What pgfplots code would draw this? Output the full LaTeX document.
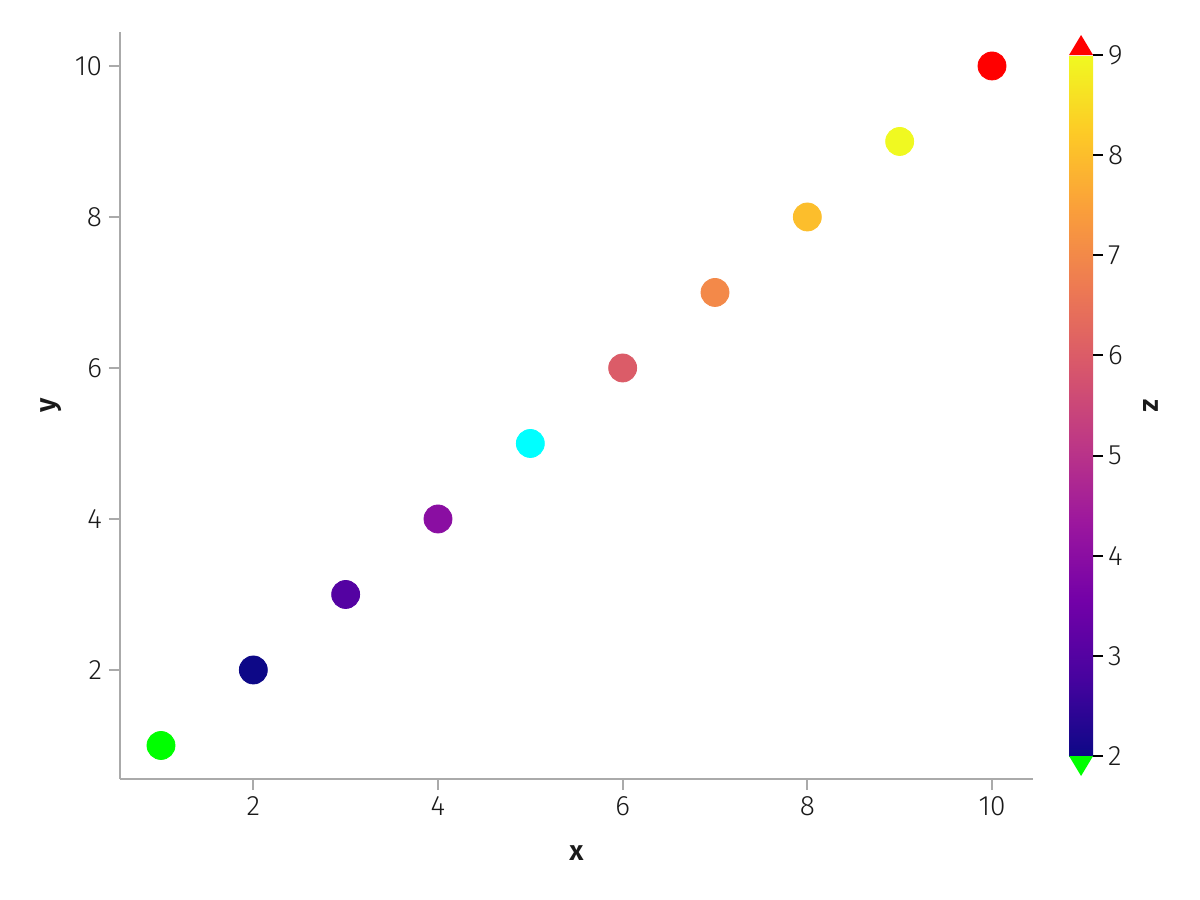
\documentclass[border=0pt]{standalone}
\usepackage{fontspec}
\setmainfont{Fira Sans Light}[BoldFont={Fira Sans SemiBold}]
\usepackage{pgfplots}
\pgfplotsset{compat=1.18}
\definecolor{spine}{HTML}{AAAAAA}
\definecolor{txt}{HTML}{1A1A1A}
\definecolor{nancyan}{rgb}{0,1,1}
\definecolor{lowgreen}{rgb}{0,1,0}
\definecolor{highred}{rgb}{1,0,0}
\begin{document}
\begin{tikzpicture}[font=\fontsize{14}{16}\selectfont]
\path[use as bounding box] (-60pt,-60.5pt) rectangle (540pt,389.5pt);
\begin{axis}[
  at={(0,0)}, anchor=south west,
  scale only axis, width=456.5pt, height=373.5pt,
  xmin=0.556, xmax=10.444, ymin=0.556, ymax=10.45,
  axis x line*=bottom, axis y line*=left,
  axis line style={spine, line width=1pt, -},
  xtick={2,4,6,8,10}, ytick={2,4,6,8,10},
  tick align=outside, major tick length=5.5pt,
  tick style={spine, line width=1pt},
  ticklabel style={txt},
  /pgf/number format/assume math mode=true,
  xlabel={\textbf{x}}, ylabel={\textbf{y}},
  xlabel style={txt, yshift=-8pt}, ylabel style={txt, yshift=0pt},
  colormap={plasma}{rgb255=(13,8,135) rgb255=(71,3,159) rgb255=(115,1,168) rgb255=(156,23,158) rgb255=(189,55,134) rgb255=(216,87,107) rgb255=(237,121,83) rgb255=(250,158,59) rgb255=(253,202,38) rgb255=(240,249,33)},
  point meta min=2, point meta max=9,
  clip=false,
  colorbar,
  colorbar style={
    at={(parent axis.south east)}, anchor=south west,
    xshift=9.5pt, yshift=11.5pt,
    width=12pt, height=350.5pt,
    axis line style={draw=none},
    ytick={2,3,4,5,6,7,8,9},
    yticklabel pos=right, ytick pos=right,
    tick align=outside, major tick length=5pt,
    ytick style={black, line width=1pt},
    yticklabel style={txt, xshift=-1pt},
    /pgf/number format/assume math mode=true,
    ylabel={\textbf{z}},
    ylabel style={txt, rotate=180, yshift=3.5pt},
    after end axis/.code={
      \fill[highred] (rel axis cs:0,1) -- (rel axis cs:1,1) -- ([yshift=10pt]rel axis cs:0.5,1) -- cycle;
      \fill[lowgreen] (rel axis cs:0,0) -- (rel axis cs:1,0) -- ([yshift=-10pt]rel axis cs:0.5,0) -- cycle;
    },
  },
]
\addplot[scatter, only marks, mark=*, mark size=7pt, point meta=explicit,
  scatter/use mapped color={draw=mapped color, fill=mapped color}]
  coordinates {(2,2) [2] (3,3) [3] (4,4) [4] (6,6) [6] (7,7) [7] (8,8) [8] (9,9) [9]};
\addplot[only marks, mark=*, mark size=7pt, draw=lowgreen, fill=lowgreen] coordinates {(1,1)};
\addplot[only marks, mark=*, mark size=7pt, draw=nancyan, fill=nancyan] coordinates {(5,5)};
\addplot[only marks, mark=*, mark size=7pt, draw=highred, fill=highred] coordinates {(10,10)};
\end{axis}
\end{tikzpicture}
\end{document}
